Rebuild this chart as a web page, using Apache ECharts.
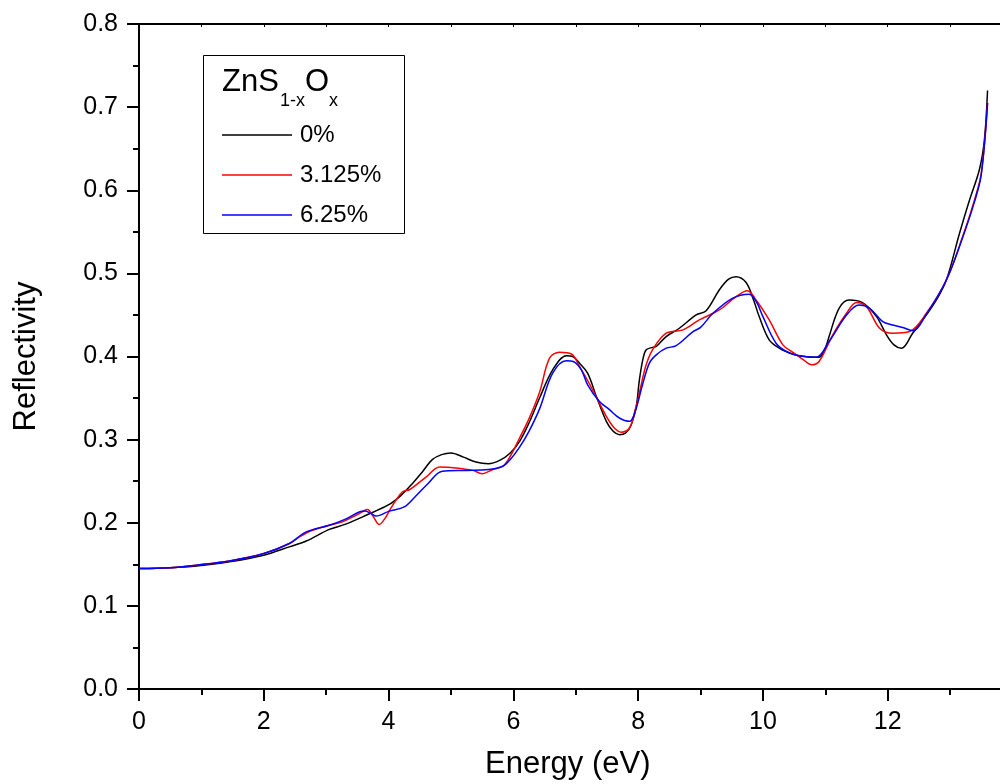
<!DOCTYPE html>
<html>
<head>
<meta charset="utf-8">
<script src="https://cdn.jsdelivr.net/npm/echarts@6/dist/echarts.min.js"></script>
<style>
  html, body { margin: 0; padding: 0; background: #fff; }
  #chart { width: 1000px; height: 784px; }
</style>
</head>
<body>
<div id="chart"></div>
<script>
// series names (ZnS1-xOx, oxygen content)
const seriesNames = ['0%', '3.125%', '6.25%'];
const seriesColors = ['#000000', '#ff0000', '#0000ff'];

// 0%
const energy0 = [0, 0.5, 0.92, 1.45, 2.0, 2.41, 2.68, 3.05, 3.3, 3.64, 4.01, 4.2, 4.38, 4.55, 4.7, 4.85, 5.0, 5.2, 5.4, 5.6, 5.78, 5.95, 6.1, 6.25, 6.42, 6.63, 6.85, 6.95, 7.06, 7.19, 7.33, 7.49, 7.6, 7.7, 7.8, 7.89, 7.97, 8.02, 8.08, 8.13, 8.23, 8.29, 8.45, 8.66, 8.93, 9.09, 9.3, 9.45, 9.57, 9.73, 9.85, 9.94, 10.1, 10.26, 10.37, 10.58, 10.9, 11.0, 11.06, 11.22, 11.38, 11.59, 11.82, 11.98, 12.1, 12.22, 12.4, 12.62, 12.78, 12.94, 13.15, 13.31, 13.47, 13.55, 13.6];
const refl0 = [0.145, 0.146, 0.148, 0.153, 0.161, 0.171, 0.178, 0.192, 0.198, 0.209, 0.222, 0.233, 0.247, 0.262, 0.276, 0.282, 0.284, 0.279, 0.273, 0.271, 0.275, 0.284, 0.298, 0.320, 0.350, 0.384, 0.401, 0.400, 0.392, 0.380, 0.352, 0.322, 0.310, 0.306, 0.308, 0.318, 0.340, 0.372, 0.398, 0.408, 0.411, 0.412, 0.424, 0.434, 0.450, 0.455, 0.480, 0.493, 0.496, 0.489, 0.468, 0.448, 0.420, 0.410, 0.406, 0.401, 0.399, 0.410, 0.424, 0.458, 0.468, 0.465, 0.448, 0.426, 0.414, 0.410, 0.428, 0.450, 0.468, 0.492, 0.548, 0.588, 0.625, 0.661, 0.720];

// 3.125%
const energy1 = [0, 0.5, 0.92, 1.45, 2.0, 2.41, 2.57, 2.78, 3.05, 3.26, 3.53, 3.66, 3.75, 3.85, 3.94, 4.04, 4.22, 4.34, 4.6, 4.82, 5.08, 5.35, 5.5, 5.67, 5.83, 5.95, 6.1, 6.25, 6.42, 6.58, 6.74, 6.93, 7.06, 7.27, 7.49, 7.63, 7.73, 7.86, 7.95, 8.02, 8.12, 8.23, 8.45, 8.72, 8.98, 9.3, 9.57, 9.75, 9.89, 10.1, 10.32, 10.48, 10.65, 10.78, 10.9, 11.12, 11.34, 11.5, 11.66, 11.87, 12.08, 12.35, 12.62, 12.94, 13.2, 13.39, 13.5, 13.6];
const refl1 = [0.145, 0.146, 0.149, 0.154, 0.163, 0.175, 0.183, 0.191, 0.197, 0.201, 0.211, 0.216, 0.208, 0.198, 0.205, 0.218, 0.237, 0.240, 0.255, 0.267, 0.266, 0.263, 0.259, 0.264, 0.268, 0.280, 0.302, 0.325, 0.357, 0.398, 0.405, 0.403, 0.388, 0.360, 0.328, 0.313, 0.309, 0.314, 0.335, 0.356, 0.388, 0.408, 0.428, 0.432, 0.444, 0.456, 0.472, 0.479, 0.468, 0.444, 0.414, 0.405, 0.396, 0.390, 0.394, 0.426, 0.452, 0.465, 0.460, 0.434, 0.428, 0.430, 0.452, 0.492, 0.544, 0.588, 0.621, 0.705];

// 6.25%
const energy2 = [0, 0.5, 0.92, 1.45, 2.0, 2.41, 2.68, 3.05, 3.3, 3.53, 3.62, 3.72, 3.8, 4.01, 4.25, 4.41, 4.63, 4.86, 5.24, 5.6, 5.83, 5.95, 6.1, 6.25, 6.42, 6.63, 6.85, 6.96, 7.09, 7.19, 7.38, 7.54, 7.7, 7.86, 7.95, 8.07, 8.18, 8.29, 8.45, 8.61, 8.88, 9.0, 9.2, 9.51, 9.78, 9.9, 10.0, 10.21, 10.4, 10.58, 10.85, 11.06, 11.34, 11.54, 11.71, 11.92, 12.08, 12.24, 12.4, 12.62, 12.94, 13.2, 13.39, 13.5, 13.6];
const refl2 = [0.145, 0.146, 0.149, 0.154, 0.163, 0.175, 0.189, 0.197, 0.204, 0.213, 0.214, 0.211, 0.208, 0.214, 0.219, 0.230, 0.247, 0.262, 0.263, 0.264, 0.268, 0.276, 0.291, 0.310, 0.337, 0.380, 0.395, 0.394, 0.384, 0.366, 0.346, 0.336, 0.326, 0.322, 0.333, 0.366, 0.392, 0.402, 0.410, 0.413, 0.430, 0.435, 0.452, 0.470, 0.475, 0.465, 0.448, 0.416, 0.405, 0.401, 0.399, 0.418, 0.450, 0.462, 0.458, 0.442, 0.438, 0.435, 0.431, 0.451, 0.492, 0.543, 0.586, 0.619, 0.705];

const energies = [energy0, energy1, energy2];
const reflectivities = [refl0, refl1, refl2];

const FONT = '"Liberation Sans", Arial, sans-serif';

function zip(xs, ys) {
  return xs.map((x, i) => [x, ys[i]]);
}

const chart = echarts.init(document.getElementById('chart'));

const option = {
  animation: false,
  backgroundColor: '#fff',
  textStyle: { fontFamily: FONT, color: '#000' },
  // plot area runs past the right edge of the picture (axis goes to 14)
  grid: { left: 139, width: 873.5, top: 24, bottom: 95, containLabel: false, outerBoundsMode: 'none' },
  xAxis: [
    {
      type: 'value',
      position: 'bottom',
      min: 0, max: 14, interval: 2,
      name: 'Energy (eV)',
      nameLocation: 'middle',
      nameGap: 60,
      nameTextStyle: { fontSize: 31, fontFamily: FONT, color: '#000', padding: [0, 16, 0, 0] },
      axisLine: { lineStyle: { color: '#000', width: 2 } },
      axisTick: { show: true, inside: false, length: 12, lineStyle: { color: '#000', width: 2 } },
      minorTick: { show: true, splitNumber: 2, length: 6, lineStyle: { color: '#000', width: 2 } },
      axisLabel: { fontSize: 25, fontFamily: FONT, color: '#000', margin: 21, showMaxLabel: false },
      splitLine: { show: false },
      minorSplitLine: { show: false }
    },
    {
      type: 'value',
      position: 'top',
      min: 0, max: 14, interval: 1,
      axisLine: { lineStyle: { color: '#000', width: 2 } },
      axisTick: { show: true, inside: true, length: 3, lineStyle: { color: '#000', width: 1 } },
      axisLabel: { show: false },
      splitLine: { show: false }
    }
  ],
  yAxis: {
    type: 'value',
    min: 0, max: 0.8, interval: 0.1,
    name: 'Reflectivity',
    nameLocation: 'middle',
    nameGap: 97,
    nameTextStyle: { fontSize: 31, fontFamily: FONT, color: '#000' },
    axisLine: { show: true, lineStyle: { color: '#000', width: 2 } },
    axisTick: { show: true, inside: false, length: 12, lineStyle: { color: '#000', width: 2 } },
    minorTick: { show: true, splitNumber: 2, length: 6, lineStyle: { color: '#000', width: 2 } },
    axisLabel: { fontSize: 25, fontFamily: FONT, color: '#000', margin: 21, formatter: v => v.toFixed(1) },
    splitLine: { show: false }
  },
  legend: {
    orient: 'vertical',
    left: 222,
    top: 122,
    padding: 0,
    icon: 'rect',
    itemWidth: 70,
    itemHeight: 1.5,
    itemGap: 14,
    data: seriesNames,
    textStyle: { fontSize: 24, lineHeight: 26, fontFamily: FONT, color: '#000', padding: [0, 0, 0, 3] }
  },
  graphic: [
    {
      type: 'rect',
      z: 1,
      shape: { x: 203.5, y: 55.5, width: 201, height: 178 },
      style: { fill: '#fff', stroke: '#000', lineWidth: 1 }
    },
    { type: 'text', z: 5, style: { text: 'ZnS', x: 222, y: 82.6, verticalAlign: 'middle', font: '31px ' + FONT, fill: '#000' } },
    { type: 'text', z: 5, style: { text: '1-x', x: 280, y: 100.8, verticalAlign: 'middle', font: '18px ' + FONT, fill: '#000' } },
    { type: 'text', z: 5, style: { text: 'O', x: 305, y: 82.6, verticalAlign: 'middle', font: '31px ' + FONT, fill: '#000' } },
    { type: 'text', z: 5, style: { text: 'x', x: 329, y: 100.8, verticalAlign: 'middle', font: '18px ' + FONT, fill: '#000' } }
  ],
  series: seriesNames.map((name, i) => ({
    name: name,
    type: 'line',
    xAxisIndex: 0,
    data: zip(energies[i], reflectivities[i]),
    showSymbol: false,
    symbol: 'none',
    smooth: 0.35,
    lineStyle: { color: seriesColors[i], width: 1.5 },
    itemStyle: { color: seriesColors[i] }
  }))
};

chart.setOption(option);
</script>
</body>
</html>
